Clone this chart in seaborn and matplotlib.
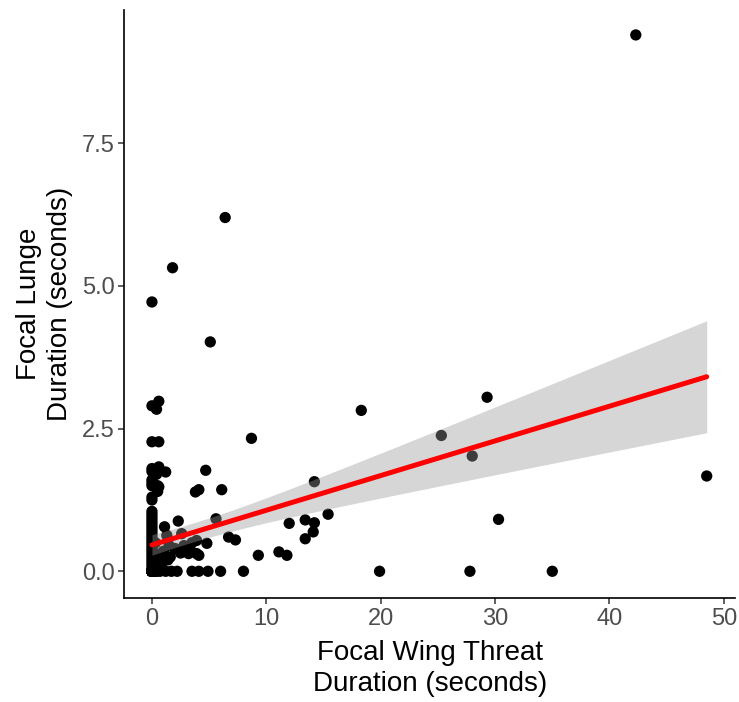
import numpy as np
import pandas as pd
import seaborn as sns
import matplotlib
matplotlib.use("Agg")
import matplotlib.pyplot as plt

# Focal wing threat duration (s) and focal lunge duration (s)
wing_threat = [
    # x ~ 0 column
    0.0, 0.0, 0.0, 0.0, 0.0, 0.0, 0.0, 0.0, 0.0, 0.0, 0.0, 0.0, 0.0, 0.0, 0.0, 0.0, 0.0,
    0.0, 0.0, 0.0, 0.0, 0.0, 0.0, 0.0, 0.0, 0.0, 0.0, 0.0, 0.0, 0.0, 0.0, 0.0, 0.0, 0.0,
    # overlapping observations at / near the origin
    0.0, 0.0, 0.0, 0.0, 0.0, 0.0, 0.0, 0.0, 0.0, 0.0, 0.0, 0.0, 0.0, 0.0, 0.0, 0.0,
    0.0, 0.0, 0.0, 0.0, 0.0, 0.0, 0.0, 0.0, 0.0, 0.0, 0.0, 0.0, 0.0, 0.0, 0.0, 0.0,
    0.0, 0.0, 0.0, 0.0, 0.0, 0.0, 0.0, 0.0, 0.0, 0.0,
    0.1, 0.1, 0.1, 0.1, 0.2, 0.2, 0.2, 0.2, 0.3, 0.3, 0.3, 0.1, 0.2,
    0.1, 0.2, 0.3, 0.1, 0.2, 0.1, 0.0, 0.0, 0.0, 0.0, 0.0, 0.0,
    # x ~ 0.3-0.7
    0.6, 0.4, 0.6, 0.6, 0.5, 0.6, 0.4, 0.5, 0.3, 0.5, 0.6, 0.4, 0.7, 0.5,
    # x 1-3
    1.2, 1.1, 1.3, 1.6, 1.8, 2.3, 2.5, 2.6, 1.2, 1.7, 2.2, 1.0, 1.5, 2.0, 0.9, 1.4, 2.8,
    # x 3-5
    3.3, 3.5, 3.9, 3.9, 4.1, 3.2, 3.8, 4.1, 4.7, 4.8, 5.1, 3.5, 4.1, 4.9,
    # x 5-10
    5.6, 6.1, 6.4, 6.7, 7.3, 6.0, 8.0, 8.7, 9.3,
    # x 10-16
    11.1, 11.8, 12.0, 13.4, 13.4, 14.2, 14.1, 14.2, 15.4,
    # x > 16
    18.3, 19.9, 25.3, 27.8, 28.0, 29.3, 30.3, 35.0, 42.3, 48.5,
]
lunge = [
    4.72, 2.90, 2.27, 1.80, 1.75, 1.60, 1.55, 1.50, 1.30, 1.25, 1.05, 1.00, 0.95, 0.90, 0.85, 0.80, 0.75,
    0.70, 0.65, 0.60, 0.55, 0.50, 0.45, 0.40, 0.35, 0.30, 0.25, 0.20, 0.15, 0.10, 0.05, 0.0, 0.0, 0.0,
    0.0, 0.0, 0.0, 0.0, 0.0, 0.0, 0.0, 0.0, 0.0, 0.0, 0.0, 0.0, 0.0, 0.0, 0.0, 0.0,
    0.0, 0.0, 0.0, 0.0, 0.0, 0.0, 0.0, 0.0, 0.0, 0.0, 0.0, 0.0, 0.0, 0.0, 0.0, 0.0,
    0.0, 0.0, 0.0, 0.0, 0.0, 0.0, 0.0, 0.0, 0.0, 0.0,
    0.0, 0.0, 0.0, 0.0, 0.0, 0.0, 0.0, 0.0, 0.0, 0.0, 0.0, 0.05, 0.05,
    0.10, 0.10, 0.05, 0.20, 0.15, 0.30, 0.0, 0.0, 0.0, 0.0, 0.0, 0.0,
    2.98, 2.84, 2.27, 1.83, 1.50, 1.48, 1.70, 1.40, 0.50, 0.30, 0.20, 0.0, 0.0, 0.10,
    1.74, 0.78, 0.63, 0.25, 5.32, 0.88, 0.32, 0.66, 0.0, 0.0, 0.0, 0.35, 0.45, 0.40, 0.15, 0.20, 0.45,
    0.40, 0.50, 0.54, 0.31, 0.28, 0.31, 1.39, 1.43, 1.77, 0.49, 4.02, 0.0, 0.0, 0.0,
    0.92, 1.43, 6.20, 0.60, 0.55, 0.0, 0.0, 2.33, 0.28,
    0.34, 0.28, 0.84, 0.90, 0.57, 0.85, 0.69, 1.57, 1.00,
    2.82, 0.0, 2.38, 0.0, 2.02, 3.05, 0.91, 0.0, 9.40, 1.67,
]
x_ticks = [0, 10, 20, 30, 40, 50]
y_ticks = [0.0, 2.5, 5.0, 7.5]
y_tick_labels = ["0.0", "2.5", "5.0", "7.5"]

df = pd.DataFrame({"wing": wing_threat, "lunge": lunge})

sns.set_style("white")
plt.rcParams["font.family"] = ["Liberation Sans", "DejaVu Sans"]

fig = plt.figure(figsize=(7.39, 7.02), dpi=100)
ax = fig.add_axes([0.168, 0.148, 0.827, 0.838])

sns.scatterplot(data=df, x="wing", y="lunge", ax=ax, color="black",
                s=66, edgecolor="none", linewidth=0, zorder=2)

# analytic 95% confidence band of a linear fit (like ggplot's geom_smooth)
x = df["wing"].to_numpy()
y = df["lunge"].to_numpy()
n = len(x)
b1, b0 = np.polyfit(x, y, 1)
resid = y - (b0 + b1 * x)
s_err = np.sqrt(np.sum(resid ** 2) / (n - 2))
xg = np.linspace(x.min(), x.max(), 200)
se = s_err * np.sqrt(1 / n + (xg - x.mean()) ** 2 / np.sum((x - x.mean()) ** 2))
tval = 1.974
yg = b0 + b1 * xg
ax.fill_between(xg, yg - tval * se, yg + tval * se, color="#999999",
                alpha=0.4, linewidth=0, zorder=3)

sns.regplot(data=df, x="wing", y="lunge", ax=ax, scatter=False, ci=None,
            color="#FF0000", line_kws={"linewidth": 3.6, "zorder": 4})

ax.set_xlim(-2.43, 51.0)
ax.set_ylim(-0.47, 9.84)
ax.set_xticks(x_ticks)
ax.set_xticklabels([str(t) for t in x_ticks])
ax.set_yticks(y_ticks)
ax.set_yticklabels(y_tick_labels)

for side in ["top", "right"]:
    ax.spines[side].set_visible(False)
for side in ["left", "bottom"]:
    ax.spines[side].set_color("black")
    ax.spines[side].set_linewidth(1.2)

ax.tick_params(axis="both", which="major", length=4, width=1.1, color="#333333",
               labelcolor="#4D4D4D", labelsize=17, pad=3, bottom=True, left=True)

ax.set_xlabel("Focal Wing Threat\nDuration (seconds)", fontsize=20, color="black",
              linespacing=1.25, labelpad=7)
ax.set_ylabel("Focal Lunge\nDuration (seconds)", fontsize=20, color="black",
              linespacing=1.25, labelpad=6)
ax.grid(False)

fig.savefig("out.png", dpi=100)
